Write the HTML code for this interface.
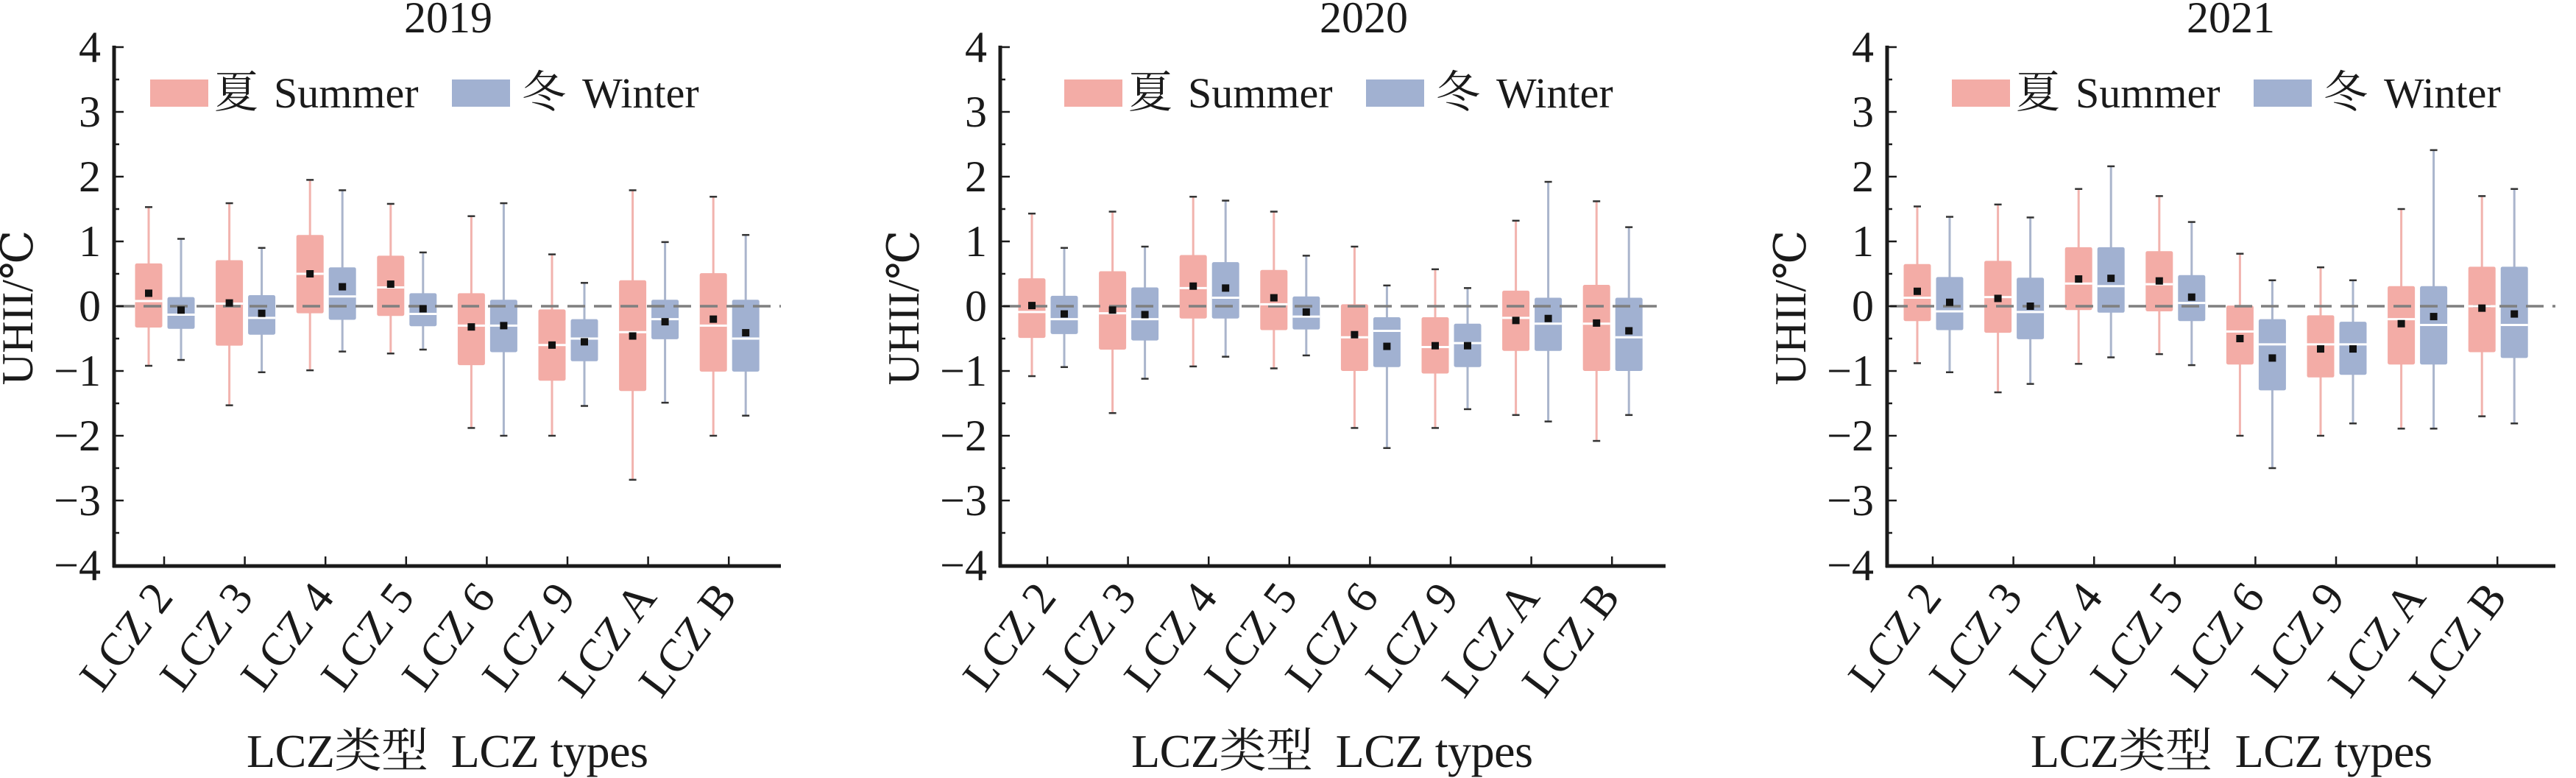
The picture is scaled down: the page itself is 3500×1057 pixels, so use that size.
<!DOCTYPE html>
<html><head><meta charset="utf-8">
<style>
html,body{margin:0;padding:0;background:#fff;}
svg{display:block;}
text{font-family:"Liberation Serif","DejaVu Serif","Noto Serif CJK SC","Noto Sans CJK SC",serif;fill:#1a1a1a;}
</style></head>
<body>
<svg id="s" width="3500" height="1057" viewBox="0 0 3500 1057" xmlns="http://www.w3.org/2000/svg" font-family="'Liberation Serif','DejaVu Serif','Noto Serif CJK SC',serif">
<rect width="3500" height="1057" fill="#fff"/>
<g id="plots"></g>
<text x="609" y="44" font-size="60" text-anchor="middle">2019</text>
<text x="1853" y="44" font-size="60" text-anchor="middle">2020</text>
<text x="3031" y="44" font-size="60" text-anchor="middle">2021</text>
<text transform="translate(44,418) rotate(-90)" font-size="60" text-anchor="middle">UHII/℃</text>
<text transform="translate(1248,418) rotate(-90)" font-size="60" text-anchor="middle">UHII/℃</text>
<text transform="translate(2453,418) rotate(-90)" font-size="60" text-anchor="middle">UHII/℃</text>
<text x="335" y="1042" font-size="64" textLength="546" lengthAdjust="spacing">LCZ类型&#160; LCZ types</text>
<text x="1537" y="1042" font-size="64" textLength="546" lengthAdjust="spacing">LCZ类型&#160; LCZ types</text>
<text x="2759" y="1042" font-size="64" textLength="546" lengthAdjust="spacing">LCZ类型&#160; LCZ types</text>

<g font-size="60" text-anchor="end">
<g transform="translate(137,0)">
<text y="84">4</text><text y="172">3</text><text y="260">2</text><text y="348">1</text><text y="436">0</text><text y="524">−1</text><text y="612">−2</text><text y="700">−3</text><text y="788">−4</text>
</g>
<g transform="translate(1341,0)">
<text y="84">4</text><text y="172">3</text><text y="260">2</text><text y="348">1</text><text y="436">0</text><text y="524">−1</text><text y="612">−2</text><text y="700">−3</text><text y="788">−4</text>
</g>
<g transform="translate(2546,0)">
<text y="84">4</text><text y="172">3</text><text y="260">2</text><text y="348">1</text><text y="436">0</text><text y="524">−1</text><text y="612">−2</text><text y="700">−3</text><text y="788">−4</text>
</g>
</g>

<g font-size="62" text-anchor="end">
<text transform="translate(237,812) rotate(-53)">LCZ 2</text>
<text transform="translate(346,812) rotate(-53)">LCZ 3</text>
<text transform="translate(456,812) rotate(-53)">LCZ 4</text>
<text transform="translate(565,812) rotate(-53)">LCZ 5</text>
<text transform="translate(675,812) rotate(-53)">LCZ 6</text>
<text transform="translate(784,812) rotate(-53)">LCZ 9</text>
<text transform="translate(894,812) rotate(-53)">LCZ A</text>
<text transform="translate(1003,812) rotate(-53)">LCZ B</text>

<text transform="translate(1437,812) rotate(-53)">LCZ 2</text>
<text transform="translate(1546,812) rotate(-53)">LCZ 3</text>
<text transform="translate(1656,812) rotate(-53)">LCZ 4</text>
<text transform="translate(1765,812) rotate(-53)">LCZ 5</text>
<text transform="translate(1875,812) rotate(-53)">LCZ 6</text>
<text transform="translate(1984,812) rotate(-53)">LCZ 9</text>
<text transform="translate(2094,812) rotate(-53)">LCZ A</text>
<text transform="translate(2203,812) rotate(-53)">LCZ B</text>

<text transform="translate(2640,812) rotate(-53)">LCZ 2</text>
<text transform="translate(2750,812) rotate(-53)">LCZ 3</text>
<text transform="translate(2859,812) rotate(-53)">LCZ 4</text>
<text transform="translate(2969,812) rotate(-53)">LCZ 5</text>
<text transform="translate(3079,812) rotate(-53)">LCZ 6</text>
<text transform="translate(3188,812) rotate(-53)">LCZ 9</text>
<text transform="translate(3298,812) rotate(-53)">LCZ A</text>
<text transform="translate(3408,812) rotate(-53)">LCZ B</text>
</g>

<g>
<rect x="204" y="108" width="79" height="37" fill="#f3aca6"/>
<text x="291" y="146" font-size="60">夏</text><text x="372" y="146" font-size="58">Summer</text>
<rect x="614" y="108" width="79" height="37" fill="#a1b1d1"/>
<text x="709" y="146" font-size="60">冬</text><text x="791" y="146" font-size="58">Winter</text>
</g>
<g transform="translate(1242,0)">
<rect x="204" y="108" width="79" height="37" fill="#f3aca6"/>
<text x="291" y="146" font-size="60">夏</text><text x="372" y="146" font-size="58">Summer</text>
<rect x="614" y="108" width="79" height="37" fill="#a1b1d1"/>
<text x="709" y="146" font-size="60">冬</text><text x="791" y="146" font-size="58">Winter</text>
</g>
<g transform="translate(2448,0)">
<rect x="204" y="108" width="79" height="37" fill="#f3aca6"/>
<text x="291" y="146" font-size="60">夏</text><text x="372" y="146" font-size="58">Summer</text>
<rect x="614" y="108" width="79" height="37" fill="#a1b1d1"/>
<text x="709" y="146" font-size="60">冬</text><text x="791" y="146" font-size="58">Winter</text>
</g>
</svg>
<script>
(function(){
var NS="http://www.w3.org/2000/svg";
var g=document.getElementById("plots");
function el(n,a){var e=document.createElementNS(NS,n);for(var k in a)e.setAttribute(k,a[k]);g.appendChild(e);return e;}
function Y(v){return 416-88*v;}
var D=[
 {ax:155,t0:223,end:1061,s:[
  [-0.92,-0.33,0.08,0.66,1.53,0.2],[-1.53,-0.61,0.04,0.71,1.59,0.05],[-0.99,-0.11,0.5,1.10,1.95,0.5],[-0.73,-0.15,0.29,0.78,1.58,0.34],
  [-1.88,-0.91,-0.3,0.2,1.39,-0.32],[-2.0,-1.15,-0.6,-0.05,0.8,-0.6],[-2.68,-1.31,-0.4,0.4,1.79,-0.46],[-2.0,-1.01,-0.3,0.51,1.69,-0.2]],
  w:[[-0.83,-0.35,-0.13,0.14,1.04,-0.06],[-1.02,-0.44,-0.18,0.17,0.9,-0.11],[-0.7,-0.21,0.15,0.6,1.79,0.3],[-0.67,-0.31,-0.12,0.2,0.83,-0.04],
  [-2.0,-0.71,-0.3,0.1,1.59,-0.3],[-1.54,-0.85,-0.5,-0.2,0.36,-0.55],[-1.49,-0.51,-0.2,0.1,0.99,-0.24],[-1.69,-1.01,-0.5,0.1,1.1,-0.41]]},
 {ax:1359,t0:1423,end:2263,s:[
  [-1.08,-0.49,-0.09,0.43,1.43,0.01],[-1.65,-0.67,-0.11,0.54,1.46,-0.06],[-0.93,-0.19,0.28,0.79,1.69,0.31],[-0.96,-0.37,0.03,0.56,1.46,0.13],
  [-1.88,-1.0,-0.48,0.03,0.92,-0.44],[-1.88,-1.04,-0.63,-0.17,0.57,-0.61],[-1.68,-0.69,-0.18,0.24,1.32,-0.22],[-2.08,-1.0,-0.27,0.33,1.62,-0.26]],
  w:[[-0.94,-0.43,-0.2,0.16,0.9,-0.12],[-1.12,-0.53,-0.2,0.29,0.92,-0.13],[-0.78,-0.19,0.13,0.68,1.63,0.28],[-0.76,-0.36,-0.16,0.15,0.78,-0.09],
  [-2.19,-0.94,-0.38,-0.17,0.32,-0.62],[-1.59,-0.94,-0.57,-0.27,0.28,-0.61],[-1.78,-0.69,-0.27,0.13,1.92,-0.19],[-1.68,-1.0,-0.48,0.13,1.22,-0.38]]},
 {ax:2564,t0:2626,end:3472,s:[
  [-0.88,-0.23,0.13,0.65,1.54,0.23],[-1.33,-0.41,0.14,0.7,1.57,0.12],[-0.89,-0.06,0.35,0.91,1.81,0.42],[-0.74,-0.08,0.34,0.85,1.7,0.39],
  [-2.0,-0.9,-0.39,0.01,0.81,-0.5],[-2.0,-1.1,-0.59,-0.14,0.6,-0.66],[-1.89,-0.9,-0.2,0.31,1.5,-0.27],[-1.7,-0.71,0,0.61,1.7,-0.03]],
  w:[[-1.02,-0.37,-0.08,0.45,1.38,0.06],[-1.2,-0.51,-0.09,0.44,1.37,0],[-0.79,-0.1,0.31,0.91,2.16,0.43],[-0.91,-0.23,0.05,0.48,1.3,0.14],
  [-2.5,-1.3,-0.59,-0.2,0.4,-0.8],[-1.81,-1.06,-0.59,-0.24,0.4,-0.66],[-1.89,-0.9,-0.29,0.31,2.41,-0.16],[-1.81,-0.8,-0.29,0.61,1.81,-0.12]]}
];
var SP=109.6;
D.forEach(function(p){
 for(var i=0;i<8;i++){
  var t=p.t0+SP*i;
  [[p.s[i],t-21,"#f3aca6","#f2b3ae"],[p.w[i],t+23,"#a1b1d1","#aab5cc"]].forEach(function(b){
   var d=b[0],c=b[1];
   el("line",{x1:c,x2:c,y1:Y(d[4]),y2:Y(d[0]),stroke:b[3],"stroke-width":3});
   el("line",{x1:c-5,x2:c+5,y1:Y(d[4]),y2:Y(d[4]),stroke:"#333","stroke-width":2.5});
   el("line",{x1:c-5,x2:c+5,y1:Y(d[0]),y2:Y(d[0]),stroke:"#333","stroke-width":2.5});
   el("rect",{x:c-18.5,y:Y(d[3]),width:37,height:Y(d[1])-Y(d[3]),fill:b[2],rx:2.5});
  });
 }
 el("line",{x1:p.ax+4,x2:p.end,y1:416,y2:416,stroke:"#7f7f7f","stroke-width":3.5,"stroke-dasharray":"24 12"});
 for(var i=0;i<8;i++){
  var t=p.t0+SP*i;
  [[p.s[i],t-21],[p.w[i],t+23]].forEach(function(b){
   var d=b[0],c=b[1];
   el("line",{x1:c-18.5,x2:c+18.5,y1:Y(d[2]),y2:Y(d[2]),stroke:"#fff","stroke-width":3});
   el("rect",{x:c-5,y:Y(d[5])-5,width:10,height:10,fill:"#111"});
  });
  el("line",{x1:t,x2:t,y1:769,y2:756,stroke:"#1a1a1a","stroke-width":2.5});
 }
 for(var v=-4;v<=4;v+=0.5){
  var L=(v%1===0)?13:7;
  el("line",{x1:p.ax,x2:p.ax+L,y1:Y(v),y2:Y(v),stroke:"#1a1a1a","stroke-width":2.5});
 }
 el("line",{x1:p.ax,x2:p.ax,y1:62,y2:771,stroke:"#1a1a1a","stroke-width":5});
 el("line",{x1:p.ax-2,x2:p.end,y1:769,y2:769,stroke:"#1a1a1a","stroke-width":5});
});
})();
</script>
</body></html>
